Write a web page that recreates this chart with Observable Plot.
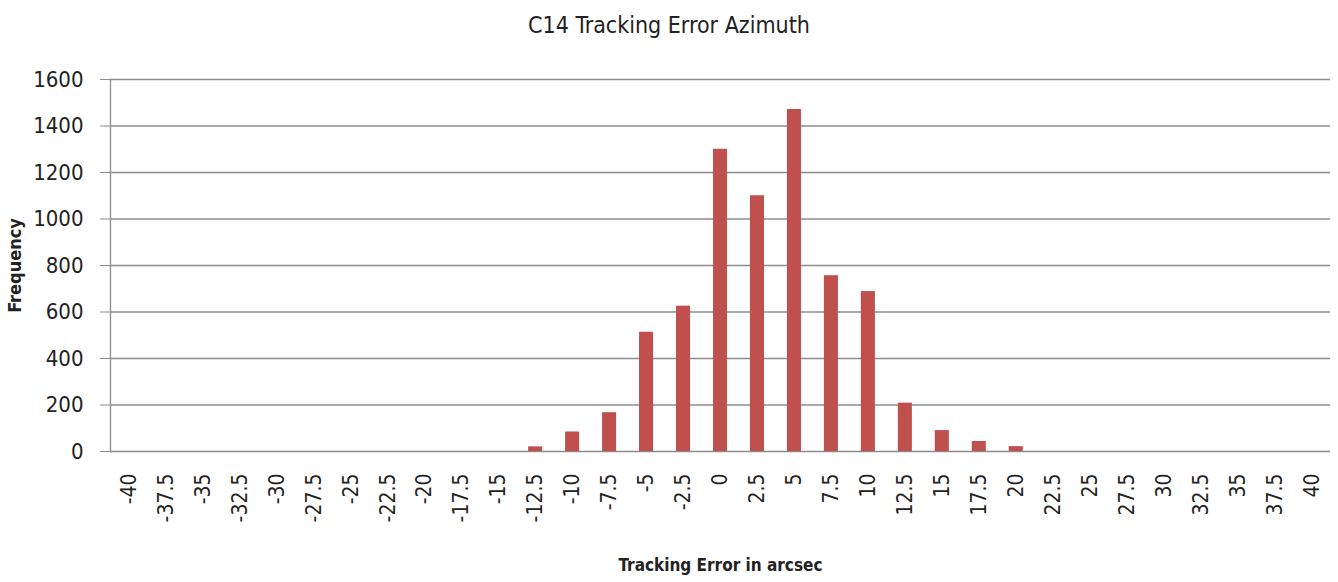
<!DOCTYPE html>
<html><head><meta charset="utf-8">
<script src="https://cdn.jsdelivr.net/npm/d3@7"></script>
<script src="https://cdn.jsdelivr.net/npm/@observablehq/plot@0.6"></script>
<style>
body{margin:0;background:#fff;font-family:"DejaVu Sans Condensed","Liberation Sans Narrow",sans-serif;}
#title{height:50px;line-height:50px;text-align:center;font-size:23px;color:#222;}
#chart svg{display:block;}
</style></head><body>
<div id="title"></div>
<div id="chart"></div>
<script>
const categories = ["-40","-37.5","-35","-32.5","-30","-27.5","-25","-22.5","-20","-17.5","-15","-12.5","-10","-7.5","-5","-2.5","0","2.5","5","7.5","10","12.5","15","17.5","20","22.5","25","27.5","30","32.5","35","37.5","40"];
const frequencies = [0,0,0,0,0,0,0,0,0,0,0,20,84,167,513,625,1300,1100,1471,756,688,208,90,43,21,0,0,0,0,0,0,0,0];
const yTicks = [0,200,400,600,800,1000,1200,1400,1600];
const title = "C14 Tracking Error Azimuth";
const xLabel = "Tracking Error in arcsec";
const yLabel = "Frequency";

const data = categories.map((c, i) => ({bin: c, freq: frequencies[i]}));

const chart = Plot.plot({
  width: 1338,
  height: 532,
  marginTop: 29,
  marginLeft: 110,
  marginRight: 8,
  marginBottom: 131,
  style: {fontFamily: '"DejaVu Sans Condensed","Liberation Sans Narrow",sans-serif', fontSize: "21px", color: "#222", background: "#fff"},
  x: {domain: categories, paddingInner: 0.62, paddingOuter: 0.31, label: null},
  y: {domain: [0, 1600], label: null},
  marks: [
    Plot.ruleY(yTicks, {stroke: "#8c8c8c", strokeWidth: 1.3, strokeOpacity: 1}),
    Plot.frame({anchor: "left", stroke: "#8c8c8c", strokeWidth: 1.3}),
    Plot.barY(data, {x: "bin", y: "freq", fill: "#c0504d"}),
    Plot.axisY(yTicks, {tickSize: 10, tickPadding: 17, tickFormat: d => String(d), stroke: "#8c8c8c", label: null, fontSize: 22}),
    Plot.axisX(categories, {tickSize: 0, tickPadding: 22, tickRotate: -90, label: null, fontSize: 21}),
    Plot.text([yLabel], {text: d => d, frameAnchor: "left", dx: -95, rotate: -90, textAnchor: "middle", fontWeight: "bold", fontSize: 18, lineAnchor: "middle"}),
    Plot.text([xLabel], {text: d => d, frameAnchor: "bottom", dy: 114, textAnchor: "middle", fontWeight: "bold", fontSize: 17, lineAnchor: "middle"})
  ]
});
document.getElementById("title").textContent = title;
document.getElementById("chart").appendChild(chart);
</script>
</body></html>
